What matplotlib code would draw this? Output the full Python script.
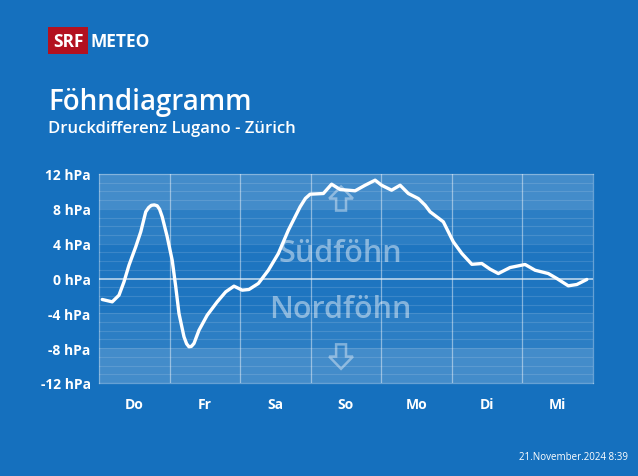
import matplotlib
matplotlib.use("Agg")
import matplotlib.pyplot as plt
from matplotlib.patches import Polygon, Rectangle

# ---- data ----
days = ["Do", "Fr", "Sa", "So", "Mo", "Di", "Mi"]
hours = [1.1, 4.5, 6.8, 8.5, 10.2, 12.5, 14.2, 15.9, 16.9, 17.8, 18.8, 19.8,
         20.6, 21.5, 23.2, 24.9, 26.1, 27.2, 28.9, 29.8, 30.6, 31.4, 32.3,
         34.0, 36.8, 40.2, 43.1, 45.9, 48.7, 51.0, 54.2, 57.6, 61.0, 64.4,
         68.4, 70.2, 71.8, 76.3, 79.1, 82.0, 87.1, 90.5, 93.9, 96.1, 99.5,
         102.4, 105.2, 108.6, 110.9, 112.6, 117.1, 120.5, 123.4, 126.8,
         130.2, 133.0, 135.8, 139.8, 144.9, 148.3, 152.8, 155.7, 159.6,
         162.5, 165.9]
pressure_diff = [-2.41, -2.68, -1.92, -0.38, 1.53, 3.64, 5.36, 7.66, 8.15, 8.40,
                 8.45, 8.35, 7.95, 7.08, 4.79, 2.08, -0.95, -4.02, -6.69, -7.5,
                 -7.84, -7.8, -7.46, -5.94, -4.21, -2.68, -1.53, -0.88, -1.34,
                 -1.26, -0.57, 0.95, 2.87, 5.55, 8.23, 9.2, 9.68, 9.76, 10.83,
                 10.22, 10.07, 10.71, 11.29, 10.71, 10.14, 10.71, 9.76, 9.18,
                 8.42, 7.66, 6.51, 4.21, 2.87, 1.63, 1.72, 1.07, 0.57, 1.26,
                 1.61, 0.95, 0.57, 0.0, -0.84, -0.69, -0.11]
y_ticks = [12, 8, 4, 0, -4, -8, -12]
y_tick_labels = ["12 hPa", "8 hPa", "4 hPa", "0 hPa", "-4 hPa", "-8 hPa", "-12 hPa"]

BG = "#1570be"
FONT = ["Open Sans", "DejaVu Sans"]

fig = plt.figure(figsize=(6.38, 4.77), dpi=100)
fig.patch.set_facecolor(BG)

W, H = 638, 477
ax = fig.add_axes([99 / W, (H - 384) / H, 494 / W, 209 / H])
ax.set_facecolor(BG)
ax.set_xlim(0, 7 * 24)
ax.set_ylim(-12, 12)

# bands
band_alpha = {12: 0.20, 8: 0.10, 4: 0.04, 0: 0.04, -4: 0.10, -8: 0.20}
for top, a in band_alpha.items():
    ax.axhspan(top - 4, top, color="white", alpha=a, lw=0, zorder=0)
for v in range(-11, 12):
    if v == 0:
        continue
    ax.axhline(v, color="white", alpha=0.13, lw=0.8, zorder=1)
for d in range(1, 7):
    ax.axvline(d * 24, color="white", alpha=0.45, lw=0.9, zorder=1)
ax.axhline(0, color="white", alpha=0.6, lw=1.4, zorder=1)

for s in ax.spines.values():
    s.set_color((1, 1, 1, 0.35))
    s.set_linewidth(0.9)

ax.set_yticks(y_ticks)
ax.set_yticklabels(y_tick_labels)
ax.set_xticks([d * 24 + 12 for d in range(7)])
ax.set_xticklabels(days)
ax.tick_params(length=0, colors="white")
ax.tick_params(axis="y", pad=6)
ax.tick_params(axis="x", pad=10)
for lab in ax.get_yticklabels() + ax.get_xticklabels():
    lab.set_fontfamily(FONT)
    lab.set_fontweight("bold")
    lab.set_fontsize(10)
    lab.set_color("white")

ax.text(0.488, 0.62, "Südföhn", transform=ax.transAxes, ha="center", va="center",
        fontsize=22, color="white", alpha=0.45, family=FONT, fontweight=600, zorder=2)
ax.text(0.488, 0.355, "Nordföhn", transform=ax.transAxes, ha="center", va="center",
        fontsize=22, color="white", alpha=0.45, family=FONT, fontweight=600, zorder=2)

def arrow(cx, ytip, ybase, up=True):
    hw = 0.024
    sw = 0.010
    if up:
        yneck = ytip - 0.5 * (ytip - ybase)
    else:
        yneck = ytip + 0.5 * (ybase - ytip)
    pts = [(cx, ytip), (cx + hw, yneck), (cx + sw, yneck), (cx + sw, ybase),
           (cx - sw, ybase), (cx - sw, yneck), (cx - hw, yneck)]
    ax.add_patch(Polygon(pts, closed=True, fill=False, edgecolor=(1, 1, 1, 0.4),
                         lw=1.8, transform=ax.transAxes, zorder=2, joinstyle="miter"))

arrow(0.49, 0.94, 0.825, up=True)
arrow(0.49, 0.068, 0.185, up=False)

ax.plot(hours, pressure_diff, color="white", lw=2.4, solid_joinstyle="round",
        solid_capstyle="round", zorder=5)

# logo
fig.patches.append(Rectangle((48 / W, 1 - 55 / H), 40 / W, 27 / H,
                             transform=fig.transFigure, facecolor="#b3111f",
                             edgecolor="none"))
fig.text(68 / W, 1 - 42 / H, "SRF", ha="center", va="center", color="white",
         fontsize=12.5, fontweight="bold", family=FONT)
fig.text(91 / W, 1 - 42 / H, "METEO", ha="left", va="center", color="white",
         fontsize=12.5, fontweight="bold", family=FONT)

fig.text(48 / W, 1 - 110 / H, "Föhndiagramm", ha="left", va="baseline",
         color="white", fontsize=20, fontweight=600, family=FONT)
fig.text(48 / W, 1 - 133 / H, "Druckdifferenz Lugano - Zürich", ha="left",
         va="baseline", color="white", fontsize=12, fontweight=600, family=FONT)

fig.text(628 / W, 1 - 460 / H, "21.November.2024 8:39", ha="right",
         va="baseline", color="white", fontsize=7, family=FONT)

fig.savefig("out.png", dpi=100, facecolor=BG)
